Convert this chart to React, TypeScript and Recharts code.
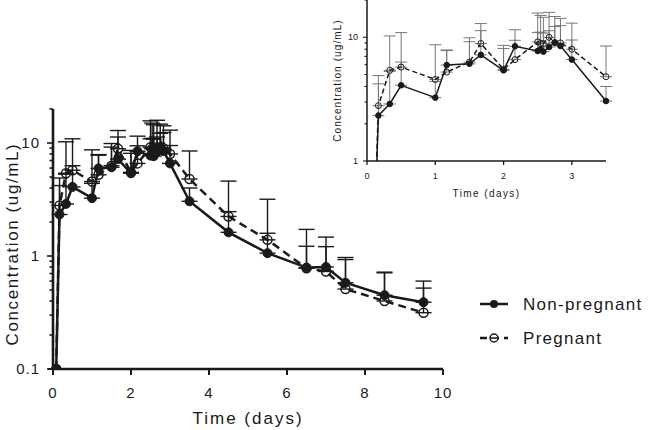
import React from 'react';
import { ErrorBar, Label, Line, LineChart, XAxis, YAxis } from 'recharts';

// sampling times (days)
const times = [0.083, 0.167, 0.333, 0.5, 1, 1.167, 1.5, 1.667, 2, 2.167, 2.5, 2.542, 2.583, 2.667, 2.75, 2.833, 3, 3.5, 4.5, 5.5, 6.5, 7, 7.5, 8.5, 9.5];

// mean concentration (ug/mL)
const nonPregnant = [0.1, 2.33, 2.89, 4.09, 3.25, 5.96, 6.1, 7.2, 5.4, 8.45, 7.74, 7.98, 7.65, 8.34, 9.06, 8.5, 6.6, 3.05, 1.62, 1.06, 0.79, 0.8, 0.58, 0.45, 0.39];
const pregnant = [0.1, 2.8, 5.4, 5.74, 4.56, 5.23, 6.3, 8.9, 5.5, 6.6, 9.17, 8.9, 8.9, 9.98, 9.06, 9.0, 8.0, 4.8, 2.24, 1.39, 0.78, 0.73, 0.51, 0.4, 0.315];

// upper SD
const nonPregnantSd = [0, 1.87, 2.41, 2.21, 1.15, 1.84, 3.1, 4.1, 2.7, 1.0, 3.16, 3.02, 3.15, 2.96, 3.14, 3.9, 2.9, 0.95, 0.85, 0.53, 0.43, 0.41, 0.35, 0.26, 0.13];
const pregnantSd = [0, 2.1, 4.85, 5.16, 4.14, 2.67, 3.6, 4.0, 3.1, 4.9, 6.53, 6.1, 5.6, 5.92, 5.64, 5.2, 5.0, 3.7, 2.36, 1.79, 0.94, 0.74, 0.46, 0.32, 0.285];

const mainXTicks = [0, 2, 4, 6, 8, 10];
const mainYTicks = [0.1, 0.2, 0.3, 0.4, 0.5, 0.6, 0.7, 0.8, 0.9, 1, 2, 3, 4, 5, 6, 7, 8, 9, 10, 20];
const mainYLabels = [0.1, 1, 10];
const insetXTicks = [0, 1, 2, 3];
const insetYTicks = [1, 2, 3, 4, 5, 6, 7, 8, 9, 10, 20];
const insetYLabels = [1, 10];

const data = times.map((t, i) => ({
    t,
    np: nonPregnant[i],
    p: pregnant[i],
    npErr: [0, nonPregnantSd[i]],
    pErr: [0, pregnantSd[i]],
}));
const insetData = data.filter((d) => d.t <= 3.5);

const font = '"Liberation Sans", Arial, sans-serif';
const ink = '#1a1a1a';

const MainYTick = ({ x, y, payload }: any) => {
    const v = payload.value;
    const major = mainYLabels.includes(v);
    const ax = x + 9;
    return (
        <g>
            <line x1={ax - (major ? 6 : 3.5)} x2={ax} y1={y} y2={y} stroke={ink} strokeWidth={1.6} />
            {major && (
                <text x={x - 4} y={y} dy="0.36em" textAnchor="end" fontSize={15} letterSpacing={1} fill={ink} fontFamily={font}>
                    {v}
                </text>
            )}
        </g>
    );
};

const MainXTick = ({ x, y, payload }: any) => {
    const ay = y - 9;
    return (
        <g>
            <line x1={x} x2={x} y1={ay} y2={ay + 6} stroke={ink} strokeWidth={2} />
            <text x={x} y={ay + 29} textAnchor="middle" fontSize={15} letterSpacing={1} fill={ink} fontFamily={font}>
                {payload.value}
            </text>
        </g>
    );
};

const InsetYTick = ({ x, y, payload }: any) => {
    const v = payload.value;
    const major = insetYLabels.includes(v);
    const ax = x + 6;
    return (
        <g>
            <line x1={ax - (major ? 4 : 2.5)} x2={ax} y1={y} y2={y} stroke={ink} strokeWidth={1.1} />
            {major && (
                <text x={x - 3} y={y} dy="0.36em" textAnchor="end" fontSize={9} fill={ink} fontFamily={font}>
                    {v}
                </text>
            )}
        </g>
    );
};

const InsetXTick = ({ x, y, payload }: any) => {
    const ay = y - 6;
    return (
        <g>
            <line x1={x} x2={x} y1={ay} y2={ay + 4} stroke={ink} strokeWidth={1.3} />
            <text x={x} y={ay + 17.5} textAnchor="middle" fontSize={9} fill={ink} fontFamily={font}>
                {payload.value}
            </text>
        </g>
    );
};

const LegendBox = () => (
    <svg width={172} height={60} style={{ display: 'block' }}>
        <line x1={2} x2={30} y1={14} y2={14} stroke={ink} strokeWidth={2.5} />
        <circle cx={16} cy={14} r={4} fill={ink} />
        <text x={45} y={20} fontSize={17} letterSpacing={1.3} fill={ink} fontFamily={font}>Non-pregnant</text>
        <line x1={2} x2={30} y1={48} y2={48} stroke={ink} strokeWidth={2.5} strokeDasharray="7 5" />
        <circle cx={16} cy={48} r={4} fill="#fff" stroke={ink} strokeWidth={1.5} />
        <line x1={12} x2={20} y1={48} y2={48} stroke={ink} strokeWidth={1.5} />
        <text x={45} y={54} fontSize={17} letterSpacing={1.3} fill={ink} fontFamily={font}>Pregnant</text>
    </svg>
);

export default function App() {
    return (
        <div style={{ position: 'absolute', left: 0, top: 0, width: 650, height: 430, background: '#fff' }}>
            <div style={{ position: 'absolute', left: 0, top: 0 }}>
                <LineChart width={650} height={430} data={data} margin={{ top: 109, right: 207, bottom: 0, left: 0 }}>
                    <XAxis
                        dataKey="t"
                        type="number"
                        domain={[0, 10]}
                        ticks={mainXTicks}
                        height={61}
                        tickSize={6}
                        tickMargin={3}
                        tickLine={false}
                        tick={<MainXTick />}
                        axisLine={{ stroke: ink, strokeWidth: 2.6 }}
                        interval={0}
                    >
                        <Label value="Time (days)" position="insideBottom" offset={6} style={{ fontSize: 17, letterSpacing: 2, fill: ink, fontFamily: font }} />
                    </XAxis>
                    <YAxis
                        scale="log"
                        type="number"
                        domain={[0.1, 20]}
                        allowDataOverflow
                        ticks={mainYTicks}
                        width={53}
                        tickSize={6}
                        tickMargin={3}
                        tickLine={false}
                        tick={<MainYTick />}
                        axisLine={{ stroke: ink, strokeWidth: 2.6 }}
                        interval={0}
                    >
                        <Label
                            value="Concentration (ug/mL)"
                            angle={-90}
                            position="insideLeft"
                            offset={12}
                            dy={5}
                            style={{ textAnchor: 'middle', fontSize: 17, letterSpacing: 1.6, fill: ink, fontFamily: font }}
                        />
                    </YAxis>
                    <Line
                        dataKey="p"
                        stroke={ink}
                        strokeWidth={2.5}
                        strokeDasharray="8 5"
                        dot={{ r: 4.5, fill: 'none', stroke: ink, strokeWidth: 1.5, strokeDasharray: '0' }}
                        isAnimationActive={false}
                    >
                        <ErrorBar dataKey="pErr" direction="y" width={8} stroke={ink} strokeWidth={1.4} />
                    </Line>
                    <Line
                        dataKey="np"
                        stroke={ink}
                        strokeWidth={2.5}
                        dot={{ r: 4.5, fill: ink, stroke: ink, strokeWidth: 1 }}
                        isAnimationActive={false}
                    >
                        <ErrorBar dataKey="npErr" direction="y" width={8} stroke={ink} strokeWidth={1.4} />
                    </Line>
                </LineChart>
            </div>
            <div style={{ position: 'absolute', left: 478, top: 290 }}>
                <LegendBox />
            </div>
            <div style={{ position: 'absolute', left: 320, top: 0 }}>
                <LineChart width={330} height={200} data={insetData} margin={{ top: 0, right: 44, bottom: 0, left: 0 }}>
                    <XAxis
                        dataKey="t"
                        type="number"
                        domain={[0, 3.5]}
                        ticks={insetXTicks}
                        height={39}
                        tickSize={4}
                        tickMargin={2}
                        tickLine={false}
                        tick={<InsetXTick />}
                        axisLine={{ stroke: ink, strokeWidth: 1.5 }}
                        interval={0}
                    >
                        <Label value="Time (days)" position="insideBottom" offset={3} style={{ fontSize: 10, letterSpacing: 1.4, fill: ink, fontFamily: font }} />
                    </XAxis>
                    <YAxis
                        scale="log"
                        type="number"
                        domain={[1, 20]}
                        allowDataOverflow
                        ticks={insetYTicks}
                        width={47}
                        tickSize={4}
                        tickMargin={2}
                        tickLine={false}
                        tick={<InsetYTick />}
                        axisLine={{ stroke: ink, strokeWidth: 1.5 }}
                        interval={0}
                    >
                        <Label
                            value="Concentration (ug/mL)"
                            angle={-90}
                            position="insideLeft"
                            offset={17}
                            style={{ textAnchor: 'middle', fontSize: 10, letterSpacing: 1.1, fill: ink, fontFamily: font }}
                        />
                    </YAxis>
                    <Line
                        dataKey="p"
                        stroke={ink}
                        strokeWidth={1.5}
                        strokeDasharray="5 3"
                        dot={{ r: 3, fill: 'none', stroke: ink, strokeWidth: 1, strokeDasharray: '0' }}
                        isAnimationActive={false}
                    >
                        <ErrorBar dataKey="pErr" direction="y" width={6} stroke="#777" strokeWidth={1} />
                    </Line>
                    <Line
                        dataKey="np"
                        stroke={ink}
                        strokeWidth={1.5}
                        dot={{ r: 2.8, fill: ink, stroke: ink, strokeWidth: 1 }}
                        isAnimationActive={false}
                    >
                        <ErrorBar dataKey="npErr" direction="y" width={6} stroke="#777" strokeWidth={1} />
                    </Line>
                </LineChart>
            </div>
        </div>
    );
}
